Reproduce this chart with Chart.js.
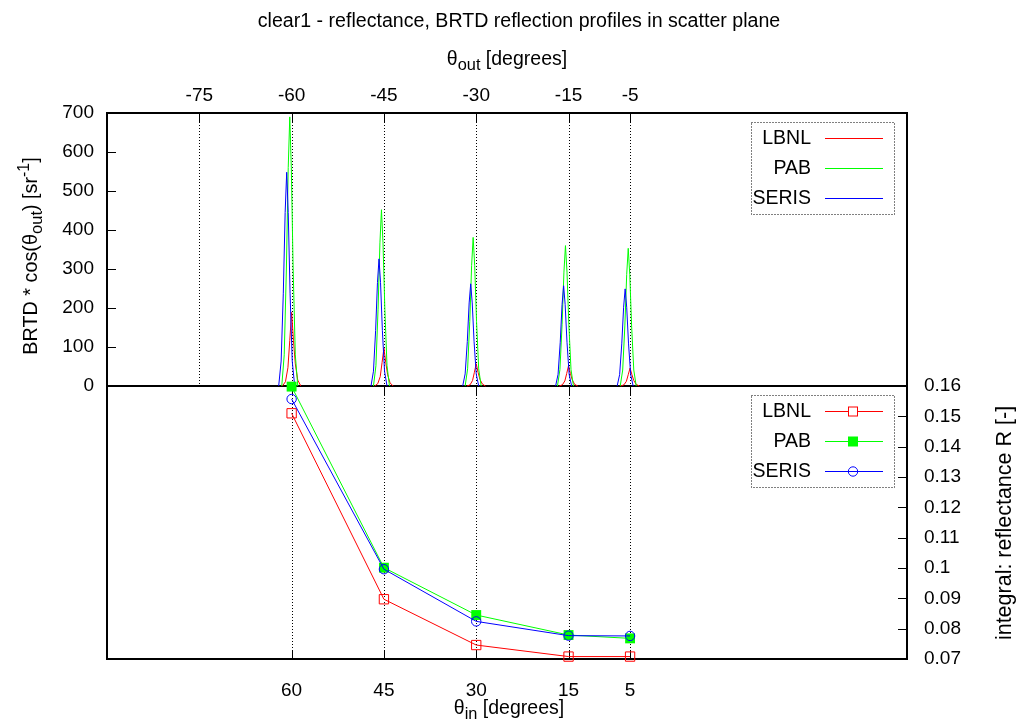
<!DOCTYPE html>
<html>
<head>
<meta charset="utf-8">
<script src="https://cdn.jsdelivr.net/npm/chart.js@4"></script>
<style>
body { margin: 0; background: #fff; }
#c { display: block; }
</style>
</head>
<body>
<canvas id="c" width="1017" height="724"></canvas>
<script>
// BRTD profiles, one sub-array per incidence angle (theta_out in degrees)
var lbnlOut = [
  [-61.5, -61, -60.6, -60.3, -60, -59.7, -59.4, -59, -58.5],
  [-46.5, -46, -45.6, -45.3, -45, -44.7, -44.4, -44, -43.5],
  [-31.5, -31, -30.6, -30.3, -30, -29.7, -29.4, -29, -28.5],
  [-16.5, -16, -15.6, -15.3, -15, -14.7, -14.4, -14, -13.5],
  [-6.5, -6, -5.6, -5.3, -5, -4.7, -4.4, -4, -3.5]
];
var lbnlBrtd = [
  [0, 11, 47, 117, 189, 117, 57, 15, 0],
  [0, 6, 24, 60, 97, 60, 29, 8, 0],
  [0, 3, 14, 35, 57, 35, 17, 5, 0],
  [0, 3, 13, 32, 52, 32, 16, 4, 0],
  [0, 3, 12, 29, 46, 29, 14, 4, 0]
];
var pabOut = [
  [-61.6, -61.2, -60.85, -60.55, -60.3, -60.05, -59.75, -59.4, -59],
  [-46.7, -46.3, -45.95, -45.65, -45.4, -45.15, -44.85, -44.5, -44.1],
  [-31.8, -31.4, -31.05, -30.75, -30.5, -30.25, -29.95, -29.6, -29.2],
  [-16.8, -16.4, -16.05, -15.75, -15.5, -15.25, -14.95, -14.6, -14.2],
  [-6.6, -6.2, -5.85, -5.55, -5.3, -5.05, -4.75, -4.4, -4]
];
var pabBrtd = [
  [0, 80, 300, 560, 690, 560, 300, 80, 0],
  [0, 52, 197, 367, 452, 367, 197, 52, 0],
  [0, 44, 166, 309, 381, 309, 166, 44, 0],
  [0, 42, 157, 292, 360, 292, 157, 42, 0],
  [0, 41, 154, 286, 353, 286, 154, 41, 0]
];
var serisOut = [
  [-62.1, -61.7, -61.35, -61.05, -60.8, -60.55, -60.25, -59.9, -59.5],
  [-47.1, -46.7, -46.35, -46.05, -45.8, -45.55, -45.25, -44.9, -44.5],
  [-32.2, -31.8, -31.45, -31.15, -30.9, -30.65, -30.35, -30, -29.6],
  [-17.1, -16.7, -16.35, -16.05, -15.8, -15.55, -15.25, -14.9, -14.5],
  [-7.1, -6.7, -6.35, -6.05, -5.8, -5.55, -5.25, -4.9, -4.5]
];
var serisBrtd = [
  [0, 64, 238, 445, 548, 445, 238, 64, 0],
  [0, 38, 142, 265, 326, 265, 142, 38, 0],
  [0, 31, 114, 213, 262, 213, 114, 31, 0],
  [0, 30, 112, 209, 257, 209, 112, 30, 0],
  [0, 29, 108, 202, 249, 202, 108, 29, 0]
];

// integral reflectance vs incidence angle
var thetaIn = [60, 45, 30, 15, 5];
var lbnlR = [0.151, 0.0897, 0.0746, 0.0708, 0.0708];
var pabR = [0.1598, 0.1001, 0.0845, 0.0779, 0.0768];
var serisR = [0.1557, 0.0996, 0.0824, 0.0777, 0.0776];

var outTicks = [-75, -60, -45, -30, -15, -5];
var inTicks = [60, 45, 30, 15, 5];
var brtdTicks = [0, 100, 200, 300, 400, 500, 600, 700];
var rTicks = [0.07, 0.08, 0.09, 0.1, 0.11, 0.12, 0.13, 0.14, 0.15, 0.16];

var FAM = '"Liberation Sans", Arial, Helvetica, sans-serif';
var RED = '#ff0000', GREEN = '#00ff00', BLUE = '#0000ff';

function peaks(xs, ys) {
  var pts = [];
  xs.forEach(function (seg, i) {
    if (i > 0) pts.push({ x: seg[0], y: null });
    seg.forEach(function (x, j) { pts.push({ x: x, y: ys[i][j] }); });
  });
  return pts;
}
function pairs(xs, ys) {
  return xs.map(function (x, i) { return { x: x, y: ys[i] }; });
}
function fixTicks(list) {
  return function (s) { s.ticks = list.map(function (v) { return { value: v }; }); };
}

// text with sub/superscripts: kind 0 normal, 1 sub, 2 sup
function rich(ctx, parts, x, y, angle, size) {
  size = size || 19;
  var fonts = [size + 'px ' + FAM, (size * 0.84) + 'px ' + FAM, (size * 0.8) + 'px ' + FAM];
  var shift = [0, 5, -8];
  ctx.save();
  ctx.translate(x, y);
  ctx.rotate(angle || 0);
  ctx.fillStyle = '#000';
  ctx.textAlign = 'left';
  ctx.textBaseline = 'alphabetic';
  var total = 0;
  parts.forEach(function (p) { ctx.font = fonts[p[1]]; total += ctx.measureText(p[0]).width; });
  var cx = -total / 2;
  parts.forEach(function (p) {
    ctx.font = fonts[p[1]];
    ctx.fillText(p[0], cx, shift[p[1]]);
    cx += ctx.measureText(p[0]).width;
  });
  ctx.restore();
}

function line(ctx, x1, y1, x2, y2) {
  ctx.beginPath(); ctx.moveTo(x1, y1); ctx.lineTo(x2, y2); ctx.stroke();
}

function legendBox(ctx, top, withMarks) {
  var names = ['LBNL', 'PAB', 'SERIS'];
  var cols = [RED, GREEN, BLUE];
  ctx.save();
  ctx.strokeStyle = '#000';
  ctx.lineWidth = 1;
  ctx.setLineDash([1, 2]);
  ctx.strokeRect(751.5, top + 0.5, 143, 92);
  ctx.setLineDash([]);
  ctx.font = '19.5px ' + FAM;
  ctx.textAlign = 'right';
  ctx.textBaseline = 'middle';
  for (var i = 0; i < 3; i++) {
    var y = top + 16 + i * 30;
    ctx.fillStyle = '#000';
    ctx.fillText(names[i], 811, y + 1);
    ctx.strokeStyle = cols[i];
    line(ctx, 825, y + 0.5, 883, y + 0.5);
    if (withMarks) {
      if (i === 0) {
        ctx.fillStyle = '#fff';
        ctx.fillRect(848.5, y - 4, 9, 9);
        ctx.strokeRect(848.5, y - 4, 9, 9);
      } else if (i === 1) {
        ctx.fillStyle = GREEN;
        ctx.fillRect(848, y - 4.5, 10, 10);
      } else {
        ctx.beginPath();
        ctx.arc(853, y + 0.5, 4.7, 0, Math.PI * 2);
        ctx.stroke();
      }
    }
  }
  ctx.restore();
}

var decor = {
  id: 'decor',
  beforeDatasetsDraw: function (chart) {
    var ctx = chart.ctx, a = chart.chartArea, s = chart.scales;
    var mid = Math.round(s.yTop.getPixelForValue(0));
    ctx.save();
    ctx.strokeStyle = '#000';
    ctx.lineWidth = 1;
    ctx.setLineDash([1, 2]);
    outTicks.forEach(function (v) {
      var x = Math.round(s.xTop.getPixelForValue(v)) + 0.5;
      line(ctx, x, a.top, x, mid);
    });
    inTicks.forEach(function (v) {
      var x = Math.round(s.xBot.getPixelForValue(v)) + 0.5;
      line(ctx, x, mid, x, a.bottom);
    });
    ctx.setLineDash([]);
    outTicks.forEach(function (v) {
      var x = Math.round(s.xTop.getPixelForValue(v)) + 0.5;
      line(ctx, x, a.top, x, a.top + 9);
    });
    inTicks.forEach(function (v) {
      var x = Math.round(s.xBot.getPixelForValue(v)) + 0.5;
      line(ctx, x, mid, x, mid + 9);
      line(ctx, x, a.bottom, x, a.bottom - 9);
    });
    brtdTicks.forEach(function (v) {
      var y = Math.round(s.yTop.getPixelForValue(v)) + 0.5;
      line(ctx, a.left, y, a.left + 9, y);
    });
    rTicks.forEach(function (v) {
      var y = Math.round(s.yBot.getPixelForValue(v)) + 0.5;
      line(ctx, a.right, y, a.right - 9, y);
    });
    ctx.lineWidth = 2;
    ctx.strokeRect(a.left, a.top, a.right - a.left, a.bottom - a.top);
    line(ctx, a.left, mid, a.right, mid);
    ctx.restore();
  },
  afterDraw: function (chart) {
    var ctx = chart.ctx;
    rich(ctx, [['clear1 - reflectance, BRTD reflection profiles in scatter plane', 0]], 519, 27, 0, 19.6);
    rich(ctx, [['\u03b8', 0], ['out', 1], [' [degrees]', 0]], 507, 65, 0, 19.5);
    rich(ctx, [['\u03b8', 0], ['in', 1], [' [degrees]', 0]], 509, 714, 0, 19.5);
    rich(ctx, [['BRTD * cos(\u03b8', 0], ['out', 1], [') [sr', 0], ['-1', 2], [']', 0]], 37, 256, -Math.PI / 2, 19.8);
    rich(ctx, [['integral: reflectance R [-]', 0]], 1011, 523, -Math.PI / 2, 21.5);
    legendBox(ctx, 122, false);
    legendBox(ctx, 395, true);
  }
};

Chart.defaults.font.family = FAM;
Chart.defaults.font.size = 19;
Chart.defaults.color = '#000';

new Chart(document.getElementById('c'), {
  type: 'line',
  data: {
    datasets: [
      { label: 'LBNL', data: peaks(lbnlOut, lbnlBrtd), xAxisID: 'xTop', yAxisID: 'yTop',
        borderColor: RED, borderWidth: 1, pointRadius: 0, order: 6 },
      { label: 'PAB', data: peaks(pabOut, pabBrtd), xAxisID: 'xTop', yAxisID: 'yTop',
        borderColor: GREEN, borderWidth: 1, pointRadius: 0, order: 5 },
      { label: 'SERIS', data: peaks(serisOut, serisBrtd), xAxisID: 'xTop', yAxisID: 'yTop',
        borderColor: BLUE, borderWidth: 1, pointRadius: 0, order: 4 },
      { label: 'LBNL', data: pairs(thetaIn, lbnlR), xAxisID: 'xBot', yAxisID: 'yBot',
        borderColor: RED, borderWidth: 1, pointStyle: 'rect', pointRadius: 6.6,
        pointBackgroundColor: 'rgba(0,0,0,0)', pointBorderColor: RED, pointBorderWidth: 1, order: 3 },
      { label: 'PAB', data: pairs(thetaIn, pabR), xAxisID: 'xBot', yAxisID: 'yBot',
        borderColor: GREEN, borderWidth: 1, pointStyle: 'rect', pointRadius: 7,
        pointBackgroundColor: GREEN, pointBorderColor: GREEN, pointBorderWidth: 0, order: 2 },
      { label: 'SERIS', data: pairs(thetaIn, serisR), xAxisID: 'xBot', yAxisID: 'yBot',
        borderColor: BLUE, borderWidth: 1, pointStyle: 'circle', pointRadius: 4.7,
        pointBackgroundColor: 'rgba(0,0,0,0)', pointBorderColor: BLUE, pointBorderWidth: 1, order: 1 }
    ]
  },
  options: {
    responsive: false,
    animation: false,
    events: [],
    spanGaps: false,
    clip: false,
    elements: { line: { tension: 0, fill: false } },
    layout: { padding: 0 },
    plugins: { legend: { display: false }, tooltip: { enabled: false }, title: { display: false } },
    scales: {
      xTop: {
        type: 'linear', position: 'top', min: -90, max: 40,
        grid: { display: false, drawTicks: false }, border: { display: false },
        afterBuildTicks: fixTicks(outTicks),
        afterFit: function (s) { s.height = 113; },
        ticks: { padding: 6, maxRotation: 0, autoSkip: false, callback: function (v) { return String(v); } }
      },
      xBot: {
        type: 'linear', position: 'bottom', min: -40, max: 90, reverse: true,
        grid: { display: false, drawTicks: false }, border: { display: false },
        afterBuildTicks: fixTicks(inTicks),
        afterFit: function (s) { s.height = 65; },
        ticks: { padding: 20, maxRotation: 0, autoSkip: false, callback: function (v) { return String(v); } }
      },
      yTop: {
        type: 'linear', position: 'left', min: -700, max: 700,
        grid: { display: false, drawTicks: false }, border: { display: false },
        afterBuildTicks: fixTicks(brtdTicks),
        afterFit: function (s) { s.width = 107; },
        ticks: { padding: 13, autoSkip: false, callback: function (v) { return String(v); } }
      },
      yBot: {
        type: 'linear', position: 'right', min: 0.07, max: 0.25,
        grid: { display: false, drawTicks: false }, border: { display: false },
        afterBuildTicks: fixTicks(rTicks),
        afterFit: function (s) { s.width = 110; },
        ticks: { padding: 17, autoSkip: false, callback: function (v) { return String(Math.round(v * 100) / 100); } }
      }
    }
  },
  plugins: [decor]
});
</script>
</body>
</html>
